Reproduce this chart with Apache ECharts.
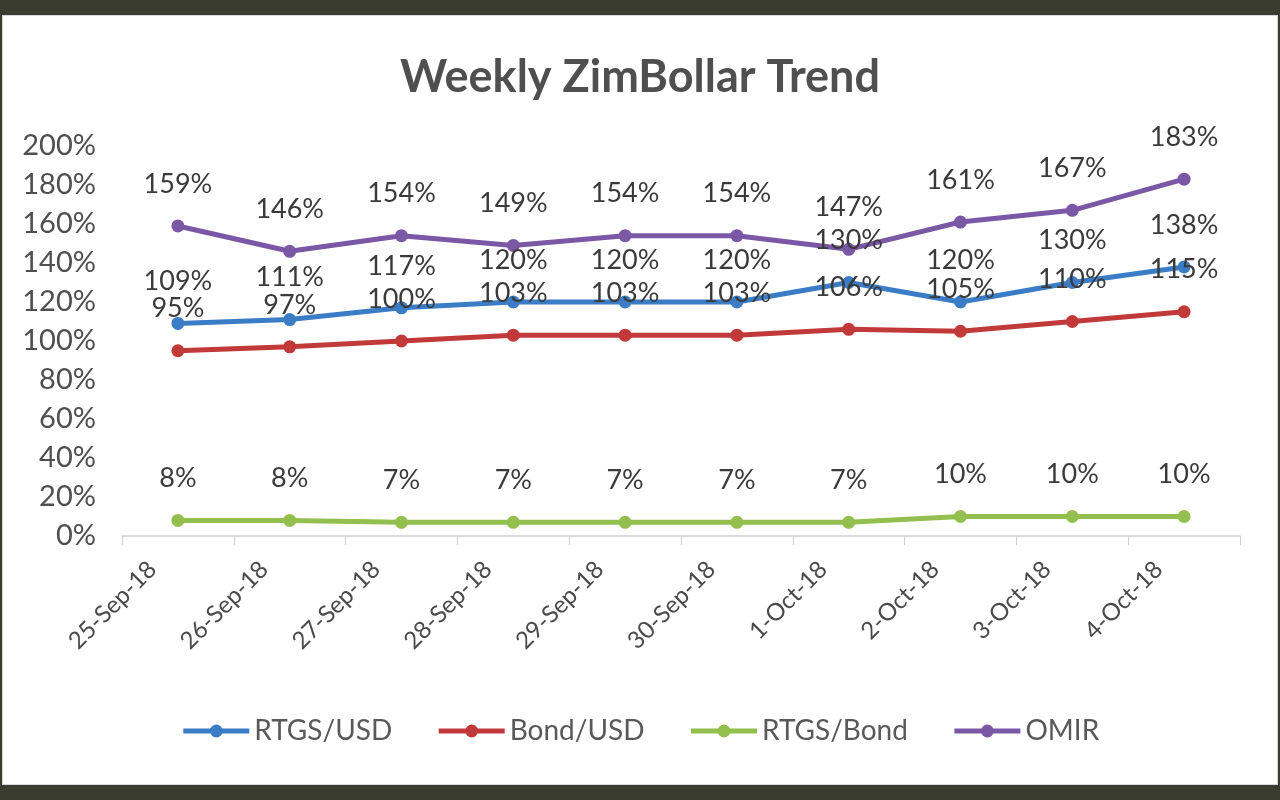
<!DOCTYPE html>
<html><head><meta charset="utf-8">
<script src="https://cdn.jsdelivr.net/npm/echarts@6/dist/echarts.min.js"></script>
<style>
html,body{margin:0;padding:0;width:1280px;height:800px;background:#3a3d2e;overflow:hidden;}
#frame{position:absolute;left:2px;top:15px;width:1274px;height:768px;background:#fff;border:1px solid #d8d8d8;}
#chart{position:absolute;left:0;top:0;width:1280px;height:800px;}
</style></head>
<body><div id="frame"></div><div id="chart"></div>
<script>
const categories = ['25-Sep-18','26-Sep-18','27-Sep-18','28-Sep-18','29-Sep-18','30-Sep-18','1-Oct-18','2-Oct-18','3-Oct-18','4-Oct-18'];
const rtgsUsd = [109,111,117,120,120,120,130,120,130,138];
const bondUsd = [95,97,100,103,103,103,106,105,110,115];
const rtgsBond = [8,8,7,7,7,7,7,10,10,10];
const omir = [159,146,154,149,154,154,147,161,167,183];
const seriesNames = ['RTGS/USD','Bond/USD','RTGS/Bond','OMIR'];
const colors = ['#3b7cc6','#c2393a','#93bf4f','#7b58a6'];

const font = 'Lato, "Open Sans", sans-serif';
function mk(name, data, color){
  return {
    name, type:'line', data, symbol:'circle', symbolSize:13,
    lineStyle:{width:5,color}, itemStyle:{color},
    label:{show:true,position:'top',distance:22,formatter:p=>p.value+'%',
      color:'#3a3a3a',fontSize:27,fontFamily:font},
    emphasis:{disabled:true}
  };
}
const chart = echarts.init(document.getElementById('chart'));
chart.setOption({
  animation:false,
  title:{text:'Weekly ZimBollar Trend',left:'center',top:50,
    textStyle:{fontSize:45,fontWeight:'bold',color:'#4f4f4f',fontFamily:font}},
  legend:{bottom:50,left:'center',itemWidth:66,itemHeight:16,itemGap:44,
    lineStyle:{width:5},
    textStyle:{fontSize:28,color:'#595959',fontFamily:font},
    data:seriesNames},
  grid:{left:122,right:40,top:146,bottom:264,containLabel:false},
  xAxis:{type:'category',data:categories,boundaryGap:true,
    axisLine:{lineStyle:{color:'#d0d0d0',width:1.5}},
    axisTick:{show:true,length:9,lineStyle:{color:'#d0d0d0'}},
    axisLabel:{rotate:45,fontSize:24,color:'#4a4a4a',fontFamily:font,margin:4,padding:[0,36,0,0]}},
  yAxis:{type:'value',min:0,max:200,interval:20,
    axisLine:{show:false},axisTick:{show:false},splitLine:{show:false},
    axisLabel:{formatter:'{value}%',fontSize:29,color:'#4f4f4f',fontFamily:font,margin:26}},
  series:[mk(seriesNames[0],rtgsUsd,colors[0]),mk(seriesNames[1],bondUsd,colors[1]),
          mk(seriesNames[2],rtgsBond,colors[2]),mk(seriesNames[3],omir,colors[3])]
});
</script></body></html>
